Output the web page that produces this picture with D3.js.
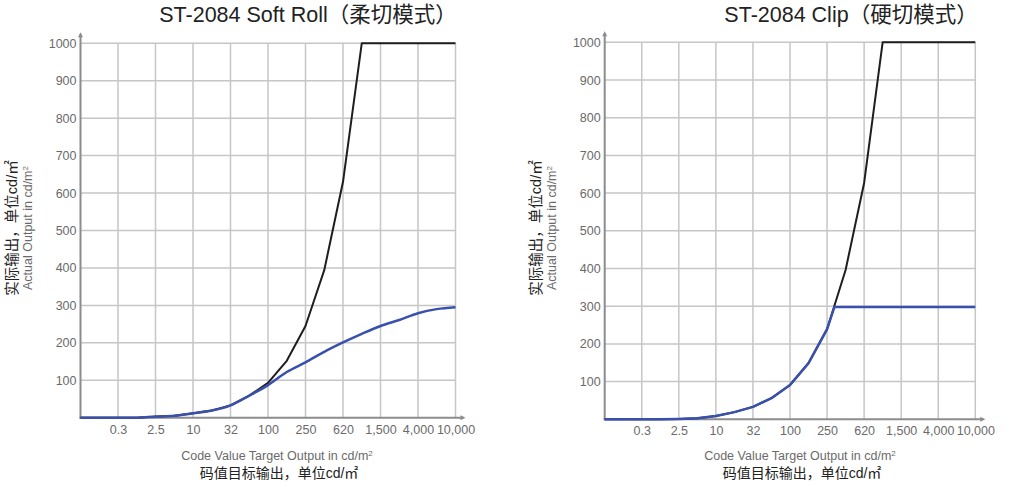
<!DOCTYPE html>
<html>
<head>
<meta charset="utf-8">
<script src="https://cdn.jsdelivr.net/npm/d3@7"></script>
<style>
  html, body { margin: 0; padding: 0; background: #fff; }
  svg { display: block; }
  text { font-family: "Liberation Sans", Arial, "Noto Sans CJK SC", sans-serif; }
  .cjk { font-family: "Liberation Sans", "Noto Sans CJK SC", sans-serif; }
</style>
</head>
<body>
<svg id="chart" width="1024" height="487"></svg>
<script>
// ---- data ----
const xTickPos = [1, 2, 3, 4, 5, 6, 7, 8, 9, 10];
const xTickLabels = ["0.3", "2.5", "10", "32", "100", "250", "620", "1,500", "4,000", "10,000"];
const yTicks = [100, 200, 300, 400, 500, 600, 700, 800, 900, 1000];

const codePos = [0, 0.5, 1, 1.5, 2, 2.5, 3, 3.5, 4, 4.5, 5, 5.5, 6, 6.5, 7, 7.5, 8, 8.5, 9, 9.5, 10];

const softTarget = [0, 0, 0, 0, 3, 5, 12, 19, 33, 59, 93, 152, 245, 394, 630, 1000, 1000, 1000, 1000, 1000, 1000];
const softOutput = [0, 0, 0, 0, 2.7, 5, 12, 19, 33, 59, 87, 122, 148, 176, 201, 224, 245, 261, 279, 290, 295];

const clipTarget = [0, 0, 0, 0, 1, 3, 9, 19, 33, 56, 91, 149, 239, 396, 627, 1000, 1000, 1000, 1000, 1000, 1000];
const clipOutPos = [0, 0.5, 1, 1.5, 2, 2.5, 3, 3.5, 4, 4.5, 5, 5.5, 6, 6.2, 6.5, 7, 7.5, 8, 8.5, 9, 9.5, 10];
const clipOutput = [0, 0, 0, 0, 1, 3, 9, 19, 33, 56, 91, 149, 239, 298, 298, 298, 298, 298, 298, 298, 298, 298];

const charts = [
  {
    title: "ST-2084 Soft Roll（柔切模式）", titleX: 308,
    x0: 80.5, x1: 455.5, y0: 417.7, y1: 43.3,
    xTitleX: 277, yLabX: 12,
    target: softTarget, targetPos: codePos,
    output: softOutput, outputPos: codePos, smooth: true
  },
  {
    title: "ST-2084 Clip（硬切模式）", titleX: 851,
    x0: 604.7, x1: 975.3, y0: 419.3, y1: 42.3,
    xTitleX: 800, yLabX: 536,
    target: clipTarget, targetPos: codePos,
    output: clipOutput, outputPos: clipOutPos, smooth: false
  }
];

const svg = d3.select("#chart");

charts.forEach(c => {
  const g = svg.append("g");
  const x = d3.scaleLinear().domain([0, 10]).range([c.x0, c.x1]);
  const y = d3.scaleLinear().domain([0, 1000]).range([c.y0, c.y1]);

  // title
  g.append("text")
    .attr("x", c.titleX).attr("y", 22)
    .attr("text-anchor", "middle")
    .attr("font-size", 21.5)
    .attr("fill", "#222")
    .attr("class", "cjk")
    .text(c.title);

  // grid: vertical
  g.append("g").selectAll("line").data(xTickPos).join("line")
    .attr("x1", d => x(d)).attr("x2", d => x(d))
    .attr("y1", y(0)).attr("y2", y(1000))
    .attr("stroke", "#c6c6c6").attr("stroke-width", 1.5);
  // grid: horizontal
  g.append("g").selectAll("line").data(yTicks).join("line")
    .attr("x1", x(0)).attr("x2", x(10))
    .attr("y1", d => y(d)).attr("y2", d => y(d))
    .attr("stroke", "#c6c6c6").attr("stroke-width", 1.5);

  // axes with arrows
  const axisCol = "#8c8c8c";
  g.append("line")
    .attr("x1", x(0)).attr("x2", x(0))
    .attr("y1", y(0) + 1).attr("y2", y(1000) - 9)
    .attr("stroke", axisCol).attr("stroke-width", 2);
  g.append("path")
    .attr("d", `M${x(0) - 2.5},${y(1000) - 6} L${x(0)},${y(1000) - 11} L${x(0) + 2.5},${y(1000) - 6} Z`)
    .attr("fill", axisCol);
  g.append("line")
    .attr("x1", x(0) - 1).attr("x2", x(10) + 8)
    .attr("y1", y(0)).attr("y2", y(0))
    .attr("stroke", axisCol).attr("stroke-width", 2);
  g.append("path")
    .attr("d", `M${x(10) + 5},${y(0) - 2.5} L${x(10) + 10},${y(0)} L${x(10) + 5},${y(0) + 2.5} Z`)
    .attr("fill", axisCol);

  // y tick labels
  const yAxis = d3.axisLeft(y).tickValues(yTicks).tickFormat(d3.format("d")).tickSize(0).tickPadding(4);
  const ya = g.append("g").attr("transform", `translate(${x(0)},0)`).call(yAxis);
  ya.select(".domain").remove();
  ya.selectAll("text").attr("font-size", 12.5).attr("fill", "#6a6a6a")
    .style("font-family", "Liberation Sans, Arial, sans-serif");

  // x tick labels
  const xAxis = d3.axisBottom(x).tickValues(xTickPos)
    .tickFormat((d, i) => xTickLabels[i]).tickSize(0).tickPadding(7);
  const xa = g.append("g").attr("transform", `translate(0,${y(0)})`).call(xAxis);
  xa.select(".domain").remove();
  xa.selectAll("text").attr("font-size", 12.5).attr("fill", "#6a6a6a")
    .style("font-family", "Liberation Sans, Arial, sans-serif");

  // x titles
  const xt = g.append("text")
    .attr("x", c.xTitleX).attr("y", 460)
    .attr("text-anchor", "middle")
    .attr("font-size", 12.5).attr("fill", "#6a6a6a");
  xt.append("tspan").text("Code Value Target Output in cd/m");
  xt.append("tspan").attr("font-size", 8).attr("dy", -4).text("2");
  g.append("text")
    .attr("x", c.xTitleX + 2).attr("y", 478)
    .attr("text-anchor", "middle")
    .attr("class", "cjk")
    .attr("font-size", 14).attr("fill", "#222")
    .text("码值目标输出，单位cd/㎡");

  // y titles
  const ymid = 228;
  g.append("text")
    .attr("transform", `translate(${c.yLabX + 5},${ymid}) rotate(-90)`)
    .attr("text-anchor", "middle")
    .attr("class", "cjk")
    .attr("font-size", 14.5).attr("fill", "#222")
    .text("实际输出，单位cd/㎡");
  const yt = g.append("text")
    .attr("transform", `translate(${c.yLabX + 20},${ymid}) rotate(-90)`)
    .attr("text-anchor", "middle")
    .attr("font-size", 12.5).attr("fill", "#6a6a6a");
  yt.append("tspan").text("Actual Output in cd/m");
  yt.append("tspan").attr("font-size", 8).attr("dy", -4).text("2");

  // lines
  const tLine = d3.line().x((d, i) => x(c.targetPos[i])).y(d => y(d)).curve(d3.curveLinear);
  g.append("path").datum(c.target)
    .attr("d", tLine)
    .attr("fill", "none").attr("stroke", "#1e1e1e").attr("stroke-width", 2)
    .attr("stroke-linejoin", "round");

  const oLine = d3.line().x((d, i) => x(c.outputPos[i])).y(d => y(d))
    .curve(c.smooth ? d3.curveMonotoneX : d3.curveLinear);
  g.append("path").datum(c.output)
    .attr("d", oLine)
    .attr("fill", "none").attr("stroke", "#3a50ad").attr("stroke-width", 2.5)
    .attr("stroke-linejoin", "round");
});
</script>
</body>
</html>
